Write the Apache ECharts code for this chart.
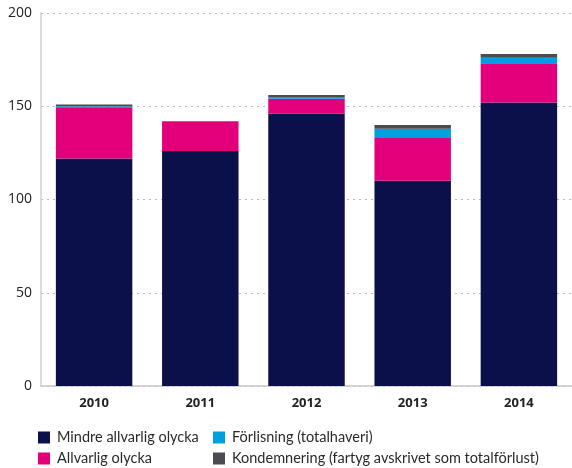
<!DOCTYPE html>
<html>
<head>
<meta charset="utf-8">
<script src="https://cdn.jsdelivr.net/npm/echarts@6/dist/echarts.min.js"></script>
<style>
  html, body { margin: 0; padding: 0; background: #fff; }
  #chart { width: 572px; height: 468px; }
</style>
</head>
<body>
<div id="chart"></div>
<script>
// Sjöolyckor per år, staplade per kategori
const years = ['2010', '2011', '2012', '2013', '2014'];
const mindreAllvarlig = [122, 126, 146, 110, 152];
const allvarlig = [27, 16, 8, 23, 21];
const forlisning = [1, 0, 1, 5, 3];
const kondemnering = [1, 0, 1, 2, 2];
const yTicks = [0, 50, 100, 150, 200];

const seriesNames = [
  'Mindre allvarlig olycka',
  'Allvarlig olycka',
  'Förlisning (totalhaveri)',
  'Kondemnering (fartyg avskrivet som totalförlust)'
];
const colors = ['#0c104a', '#e2007a', '#00a0de', '#4b4b53'];
const seriesData = [mindreAllvarlig, allvarlig, forlisning, kondemnering];

const chart = echarts.init(document.getElementById('chart'));

const legendText = { fontFamily: 'Lato', fontSize: 14.5, color: '#2a2a2a', padding: [0, 0, 0, 2] };

chart.setOption({
  animation: false,
  color: colors,
  grid: { left: 41, top: 13, width: 533, bottom: 82, containLabel: false },
  legend: [
    {
      data: [seriesNames[0], seriesNames[1]],
      orient: 'vertical', left: 38, top: 430,
      itemWidth: 12, itemHeight: 12, itemGap: 6,
      icon: 'rect', textStyle: legendText, padding: 0
    },
    {
      data: [seriesNames[2], seriesNames[3]],
      orient: 'vertical', left: 213, top: 430,
      itemWidth: 12, itemHeight: 12, itemGap: 6,
      icon: 'rect', textStyle: legendText, padding: 0
    }
  ],
  xAxis: {
    type: 'category',
    data: years,
    axisLine: { lineStyle: { color: '#c8c8c8', width: 1.5 } },
    axisTick: { show: false },
    axisLabel: {
      fontFamily: 'Open Sans', fontWeight: 'bold', fontSize: 13,
      color: '#222', margin: 11
    }
  },
  yAxis: {
    type: 'value',
    min: yTicks[0], max: yTicks[yTicks.length - 1], interval: 50,
    axisLine: { show: true, lineStyle: { color: '#d0d0d0', width: 1.5 } },
    axisTick: { show: false },
    axisLabel: {
      fontFamily: 'Open Sans', fontSize: 14, color: '#222', margin: 9
    },
    splitLine: { lineStyle: { color: '#bcbcbc', type: [2, 4], width: 1 } }
  },
  series: seriesNames.map((name, i) => ({
    name: name,
    type: 'bar',
    stack: 'total',
    barWidth: '72%',
    data: seriesData[i],
    itemStyle: { color: colors[i] }
  }))
});
</script>
</body>
</html>
